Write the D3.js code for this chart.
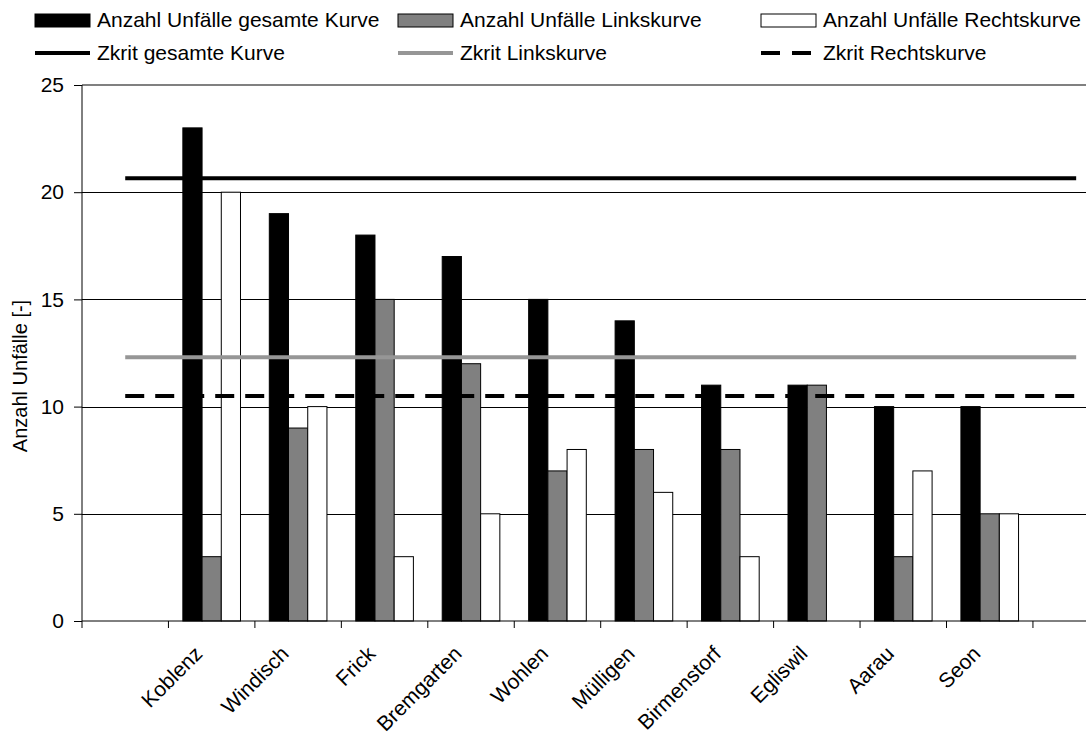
<!DOCTYPE html>
<html>
<head>
<meta charset="utf-8">
<script src="https://cdn.jsdelivr.net/npm/d3@7"></script>
<style>
  html, body { margin: 0; padding: 0; background: #fff; }
  svg { display: block; font-family: "Liberation Sans", Arial, sans-serif; }
</style>
</head>
<body>
<svg id="chart" width="1086" height="733"></svg>
<script>
// Curve sites (empty slots at both ends of the category axis)
const categories = ["", "Koblenz", "Windisch", "Frick", "Bremgarten", "Wohlen",
  "Mülligen", "Birmenstorf", "Egliswil", "Aarau", "Seon", ""];

// Accident counts per site
const totalCurve = [null, 23, 19, 18, 17, 15, 14, 11, 11, 10, 10, null];
const leftCurve  = [null, 3, 9, 15, 12, 7, 8, 8, 11, 3, 5, null];
const rightCurve = [null, 20, 10, 3, 5, 8, 6, 3, 0, 7, 5, null];

// Critical values (Zkrit)
const zkritTotal = 20.65;
const zkritLeft = 12.3;
const zkritRight = 10.5;

const yTicks = [0, 5, 10, 15, 20, 25];

const barSeries = [
  { name: "Anzahl Unfälle gesamte Kurve", values: totalCurve, fill: "#000000" },
  { name: "Anzahl Unfälle Linkskurve", values: leftCurve, fill: "#808080" },
  { name: "Anzahl Unfälle Rechtskurve", values: rightCurve, fill: "#ffffff" }
];
const lineSeries = [
  { name: "Zkrit gesamte Kurve", value: zkritTotal, color: "#000000", dash: null },
  { name: "Zkrit Linkskurve", value: zkritLeft, color: "#969696", dash: null },
  { name: "Zkrit Rechtskurve", value: zkritRight, color: "#000000", dash: "19,11" }
];

const svg = d3.select("#chart");
const plotLeft = 82, plotTop = 85, plotBottom = 621;
const bandStep = 86.45;
const plotRight = plotLeft + bandStep * categories.length;

const x = d3.scaleBand()
  .domain(d3.range(categories.length))
  .range([plotLeft, plotRight])
  .padding(0);
const bw = x.bandwidth();

const y = d3.scaleLinear().domain([0, 25]).range([plotBottom, plotTop]);

// Grid lines
svg.append("g").selectAll("line")
  .data(yTicks.filter(t => t > 0 && t < 25))
  .join("line")
  .attr("x1", plotLeft).attr("x2", plotRight)
  .attr("y1", d => Math.round(y(d)) + 0.5).attr("y2", d => Math.round(y(d)) + 0.5)
  .attr("stroke", "#000").attr("stroke-width", 1);

// Plot area top border
svg.append("line")
  .attr("x1", plotLeft).attr("x2", plotRight)
  .attr("y1", y(25)).attr("y2", y(25))
  .attr("stroke", "#808080").attr("stroke-width", 2);

// Grouped bars
const x1 = d3.scaleBand()
  .domain(barSeries.map(s => s.name))
  .range([bw / 6, bw * 5 / 6])
  .padding(0);

barSeries.forEach(s => {
  svg.append("g").selectAll("rect")
    .data(s.values.map((v, i) => ({ v, i })).filter(d => d.v !== null && d.v > 0))
    .join("rect")
    .attr("x", d => x(d.i) + x1(s.name))
    .attr("width", x1.bandwidth())
    .attr("y", d => y(d.v))
    .attr("height", d => y(0) - y(d.v))
    .attr("fill", s.fill)
    .attr("stroke", "#000")
    .attr("stroke-width", 1);
});

// Critical value lines, from first to last category centre
lineSeries.forEach(s => {
  const pts = [[x(0) + bw / 2, y(s.value)], [x(categories.length - 1) + bw / 2, y(s.value)]];
  svg.append("path")
    .attr("d", d3.line()(pts))
    .attr("fill", "none")
    .attr("stroke", s.color)
    .attr("stroke-width", 4)
    .attr("stroke-dasharray", s.dash);
});

// Y axis
const yAxis = svg.append("g")
  .attr("transform", `translate(${plotLeft},0)`)
  .call(d3.axisLeft(y).tickValues(yTicks).tickSize(8).tickPadding(10).tickFormat(d3.format("d")));
yAxis.select(".domain").attr("stroke", "#000").attr("d", `M0,${y(25)}V${y(0)}`);
yAxis.selectAll(".tick line").attr("stroke", "#000");
yAxis.selectAll(".tick text")
  .attr("font-size", 21)
  .attr("fill", "#000")
  .attr("font-family", "Liberation Sans, Arial, sans-serif");

// X axis: baseline and tick marks at category boundaries
const xAxis = svg.append("g").attr("transform", `translate(0,${plotBottom})`);
xAxis.append("line")
  .attr("x1", plotLeft).attr("x2", plotRight)
  .attr("stroke", "#000").attr("stroke-width", 1);
xAxis.selectAll("line.tick")
  .data(d3.range(categories.length + 1))
  .join("line")
  .attr("class", "tick")
  .attr("x1", i => i < categories.length ? x(i) : plotRight)
  .attr("x2", i => i < categories.length ? x(i) : plotRight)
  .attr("y1", 0).attr("y2", 7)
  .attr("stroke", "#000");

// Rotated category labels
xAxis.selectAll("text")
  .data(categories.map((c, i) => ({ c, i })).filter(d => d.c))
  .join("text")
  .attr("transform", d => `translate(${x(d.i) + bw / 2 - 8},${34}) rotate(-45)`)
  .attr("text-anchor", "end")
  .attr("font-size", 21)
  .attr("fill", "#000")
  .text(d => d.c);

// Y axis title
svg.append("text")
  .attr("transform", "translate(27,376) rotate(-90)")
  .attr("text-anchor", "middle")
  .attr("font-size", 20)
  .attr("fill", "#000")
  .text("Anzahl Unfälle [-]");

// Legend
const colX = [35, 398, 761];
const legend = svg.append("g");
barSeries.forEach((s, i) => {
  const g = legend.append("g").attr("transform", `translate(${colX[i]},20)`);
  g.append("rect")
    .attr("x", 0).attr("y", -6).attr("width", 55).attr("height", 13)
    .attr("fill", s.fill).attr("stroke", "#000").attr("stroke-width", 1);
  g.append("text")
    .attr("x", 62).attr("y", 0).attr("dy", "0.35em")
    .attr("font-size", 21).attr("fill", "#000")
    .text(s.name);
});
lineSeries.forEach((s, i) => {
  const g = legend.append("g").attr("transform", `translate(${colX[i]},53)`);
  g.append("line")
    .attr("x1", 0).attr("x2", 55).attr("y1", 0).attr("y2", 0)
    .attr("stroke", s.color).attr("stroke-width", 4)
    .attr("stroke-dasharray", s.dash ? "19,12" : null);
  g.append("text")
    .attr("x", 62).attr("y", 0).attr("dy", "0.35em")
    .attr("font-size", 21).attr("fill", "#000")
    .text(s.name);
});
</script>
</body>
</html>
